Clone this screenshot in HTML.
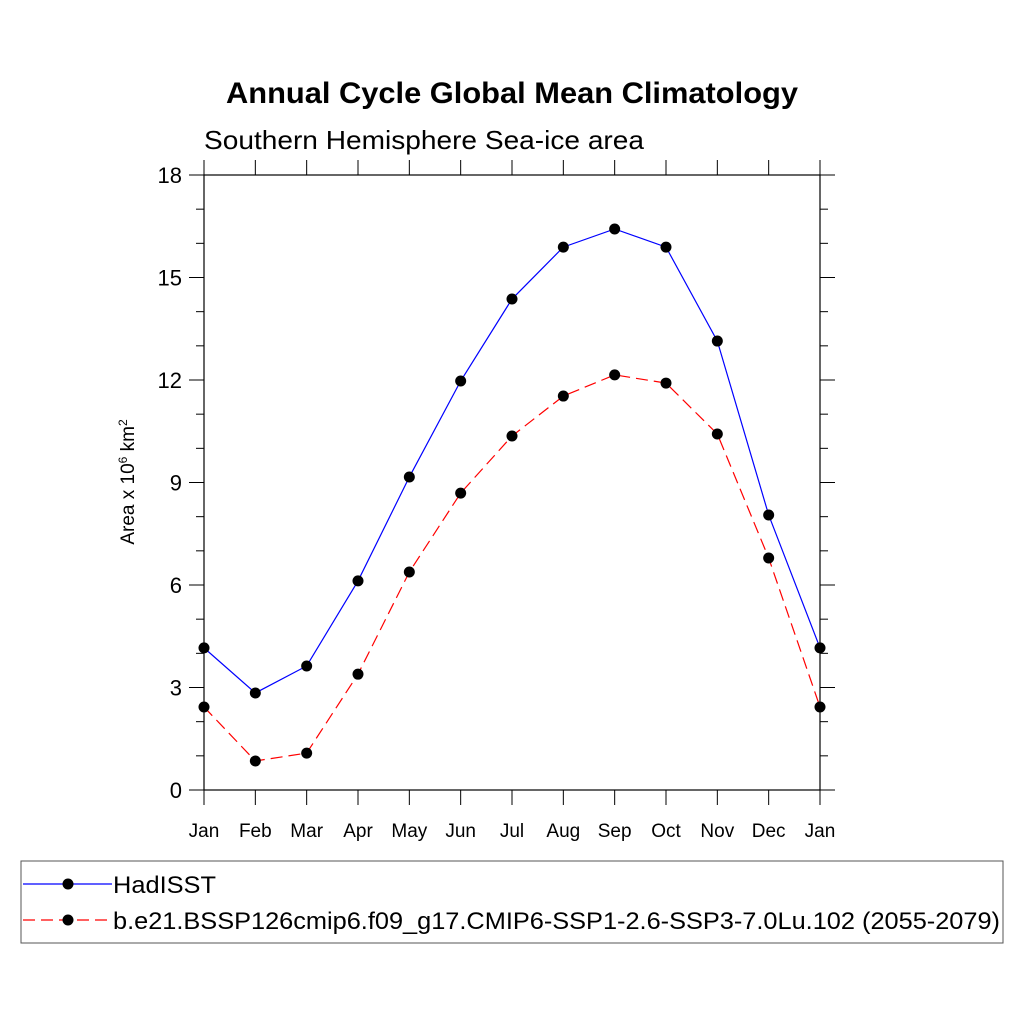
<!DOCTYPE html>
<html><head><meta charset="utf-8"><style>
body{margin:0;background:#fff;}
svg{display:block;font-family:"Liberation Sans",sans-serif;}
</style></head><body>
<svg id="chart" width="1024" height="1024" viewBox="0 0 1024 1024">
<text x="226" y="103" font-size="30" font-weight="bold" textLength="572" lengthAdjust="spacingAndGlyphs">Annual Cycle Global Mean Climatology</text>
<text x="204" y="149" font-size="26" textLength="440" lengthAdjust="spacingAndGlyphs">Southern Hemisphere Sea-ice area</text>
<text transform="translate(134,482) rotate(-90)" text-anchor="middle" font-size="19">Area x 10<tspan dy="-7" font-size="12">6</tspan><tspan dy="7"> km</tspan><tspan dy="-7" font-size="12">2</tspan></text>
<g id="axes"></g>
<g id="series"></g>
<g id="legend">
<rect x="21" y="861" width="982" height="82" fill="none" stroke="#555" stroke-width="1"/>
<g>
<line x1="23" y1="884" x2="112" y2="884" stroke="#00f" stroke-width="1.2"/>
<circle cx="68" cy="884" r="5.5" fill="#000"/>
<text x="113" y="893" font-size="24" textLength="103" lengthAdjust="spacingAndGlyphs">HadISST</text>
</g>
<g>
<line x1="23" y1="920" x2="112" y2="920" stroke="#f00" stroke-width="1.2" stroke-dasharray="12,6"/>
<circle cx="68" cy="920" r="5.5" fill="#000"/>
<text x="113" y="929" font-size="24" textLength="887" lengthAdjust="spacingAndGlyphs">b.e21.BSSP126cmip6.f09_g17.CMIP6-SSP1-2.6-SSP3-7.0Lu.102 (2055-2079)</text>
</g>
</g>
</svg>
<script>
const months=["Jan","Feb","Mar","Apr","May","Jun","Jul","Aug","Sep","Oct","Nov","Dec","Jan"];
const hadisst=[4.16,2.84,3.63,6.12,9.16,11.97,14.37,15.89,16.42,15.89,13.14,8.05,4.16];
const model=[2.43,0.85,1.08,3.39,6.38,8.69,10.36,11.53,12.15,11.91,10.42,6.79,2.43];
const yTicks=[0,3,6,9,12,15,18];
const NS="http://www.w3.org/2000/svg";
const L=204,R=820,T=175,B=790;
const xs=i=>L+(R-L)*i/12;
const ys=v=>B-(B-T)*v/18;
function mk(tag,attrs,parent){const e=document.createElementNS(NS,tag);for(const k in attrs)e.setAttribute(k,attrs[k]);parent.appendChild(e);return e;}
const ax=document.getElementById('axes');
const frame=mk('rect',{x:L,y:T,width:R-L,height:B-T,fill:'none',stroke:'#000','stroke-width':1.2},ax);


for(let v=0;v<=18;v+=1){
  const major=v%3===0;const len=major?15:8;const y=ys(v);
  mk('line',{x1:L-len,y1:y,x2:L,y2:y,stroke:'#000','stroke-width':1},ax);
  mk('line',{x1:R,y1:y,x2:R+len,y2:y,stroke:'#000','stroke-width':1},ax);
}
yTicks.forEach(v=>{
  const t=mk('text',{x:L-22,y:ys(v)+8,'text-anchor':'end','font-size':22},ax);
  t.textContent=v;
  
  
});
months.forEach((m,i)=>{
  const x=xs(i);
  mk('line',{x1:x,y1:B,x2:x,y2:B+15,stroke:'#000','stroke-width':1},ax);
  mk('line',{x1:x,y1:T,x2:x,y2:T-15,stroke:'#000','stroke-width':1},ax);
  const t=mk('text',{x:x,y:B+47,'text-anchor':'middle','font-size':19},ax);
  t.textContent=m;
  
  
});
const sg=document.getElementById('series');
function draw(data,color,dash,name){
  const g=mk('g',{},sg);
  
  
  const pl=mk('polyline',{points:data.map((v,i)=>xs(i)+','+ys(v)).join(' '),fill:'none',stroke:color,'stroke-width':1.2},g);
  if(dash)pl.setAttribute('stroke-dasharray',dash);
  data.forEach((v,i)=>{
    const c=mk('circle',{cx:xs(i),cy:ys(v),r:5.5,fill:'#000'},g);
    
    
  });
}
draw(hadisst,'#00f',null,'series-hadisst');
draw(model,'#f00','12,6','series-model');
</script>
</body></html>
